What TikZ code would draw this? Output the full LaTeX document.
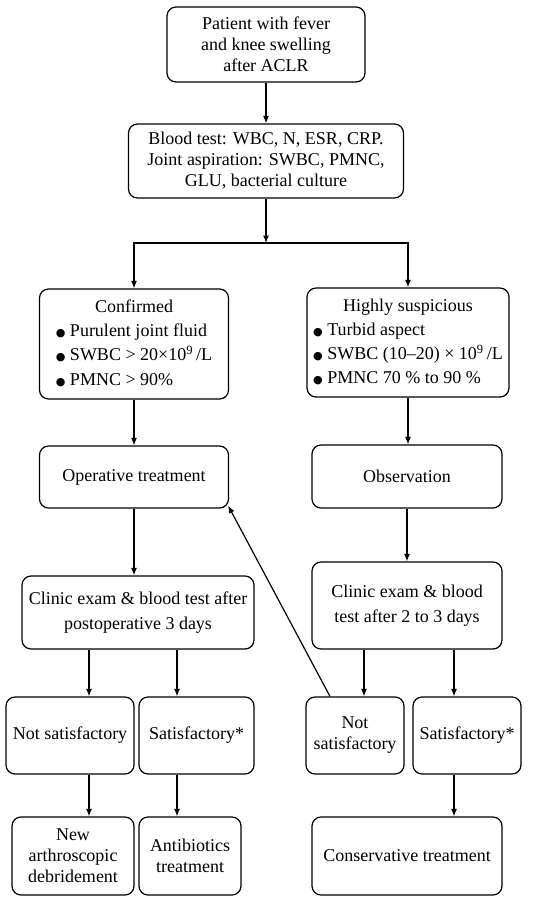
\documentclass[tikz,border=0pt]{standalone}
\usepackage{fontspec}
\setmainfont{Liberation Serif}
\newfontfamily\symfont{DejaVu Sans}
\newcommand{\blt}{{\symfont\fontsize{11}{11}\selectfont ●}}
\usetikzlibrary{arrows.meta,calc}
\begin{document}
\begin{tikzpicture}[x=1pt,y=-1pt,
  box/.style={draw, line width=1.2pt, rounded corners=9pt, align=center, inner sep=2pt,
    font=\fontsize{18}{21}\selectfont},
  arr/.style={line width=1.2pt, -{Latex[length=7.5pt,width=6pt]}}]
\useasboundingbox (0,0) rectangle (556,900);
\renewcommand{\arraystretch}{1.15}
% nodes
\node[box, minimum width=198pt, minimum height=75pt] (b1) at (266,44.5)
  {Patient with fever\\and knee swelling\\after ACLR};
\node[box, minimum width=275pt, minimum height=74pt] (b2) at (266,161)
  {Blood test: WBC, N, ESR, CRP.\\Joint aspiration: SWBC, PMNC,\\GLU, bacterial culture};
\node[box, minimum width=189pt, minimum height=110pt] (conf) at (134,344)
  {\begin{tabular}{@{}l@{}}\multicolumn{1}{@{}c@{}}{Confirmed}\\
   \blt\ Purulent joint fluid\\
   \blt\ SWBC > 20×10\textsuperscript{9}\,/L\\
   \blt\ PMNC > 90\%\end{tabular}};
\node[box, minimum width=202pt, minimum height=109pt] (hs) at (408,342.5)
  {\begin{tabular}{@{}l@{}}\multicolumn{1}{@{}c@{}}{Highly suspicious}\\
   \blt\ Turbid aspect\\
   \blt\ SWBC (10–20) × 10\textsuperscript{9}\,/L\\
   \blt\ PMNC 70 \% to 90 \%\end{tabular}};
\node[box, minimum width=189pt, minimum height=62pt] (op) at (134,477) {Operative treatment};
\node[box, minimum width=190pt, minimum height=63pt] (obs) at (407,476.5) {Observation};
\node[box, minimum width=232pt, minimum height=73pt, font=\fontsize{18}{25}\selectfont] (cl) at (138,612.5)
  {Clinic exam \& blood test after\\postoperative 3 days};
\node[box, minimum width=190pt, minimum height=87pt, font=\fontsize{18}{25}\selectfont] (cr) at (407,605.5)
  {Clinic exam \& blood\\test after 2 to 3 days};
\node[box, minimum width=128pt, minimum height=77pt] (ns1) at (70,735.5) {Not satisfactory};
\node[box, minimum width=115pt, minimum height=77pt] (s1) at (196.5,735.5) {Satisfactory*};
\node[box, minimum width=98pt, minimum height=77pt] (ns2) at (355,735.5) {Not\\satisfactory};
\node[box, minimum width=108pt, minimum height=77pt] (s2) at (467,735.5) {Satisfactory*};
\node[box, minimum width=122pt, minimum height=78pt] (nad) at (73,856) {New\\arthroscopic\\debridement};
\node[box, minimum width=102pt, minimum height=78pt] (ab) at (190,856) {Antibiotics\\treatment};
\node[box, minimum width=190pt, minimum height=78pt] (cons) at (407,856) {Conservative treatment};
% helper coordinates
\coordinate (j) at (266,243);
\coordinate (xa) at (89,0);
\coordinate (xb) at (177,0);
\coordinate (xc) at (364,0);
\coordinate (xd) at (454,0);
\coordinate (xe) at (330,0);
% connectors
\draw[arr] (b1) -- (b2);
\draw[arr] (b2.south) -- (j);
\draw[arr] (j) -| (conf.north);
\draw[arr] (j) -| (hs.north);
\draw[arr] (conf) -- (op);
\draw[arr] (hs.south) -- (hs.south |- obs.north);
\draw[arr] (obs) -- (cr);
\draw[arr] (op.south) -- (op.south |- cl.north);
\draw[arr] (cl.south -| xa) -- (ns1.north -| xa);
\draw[arr] (cl.south -| xb) -- (s1.north -| xb);
\draw[arr] (ns1.south -| xa) -- (nad.north -| xa);
\draw[arr] (s1.south -| xb) -- (ab.north -| xb);
\draw[arr] (cr.south -| xc) -- (ns2.north -| xc);
\draw[arr] (cr.south -| xd) -- (s2.north -| xd);
\draw[arr] (s2.south -| xd) -- (cons.north -| xd);
\draw[arr] (ns2.north -| xe) -- ([shift={(-1,-3)}]op.south east);
\end{tikzpicture}
\end{document}
